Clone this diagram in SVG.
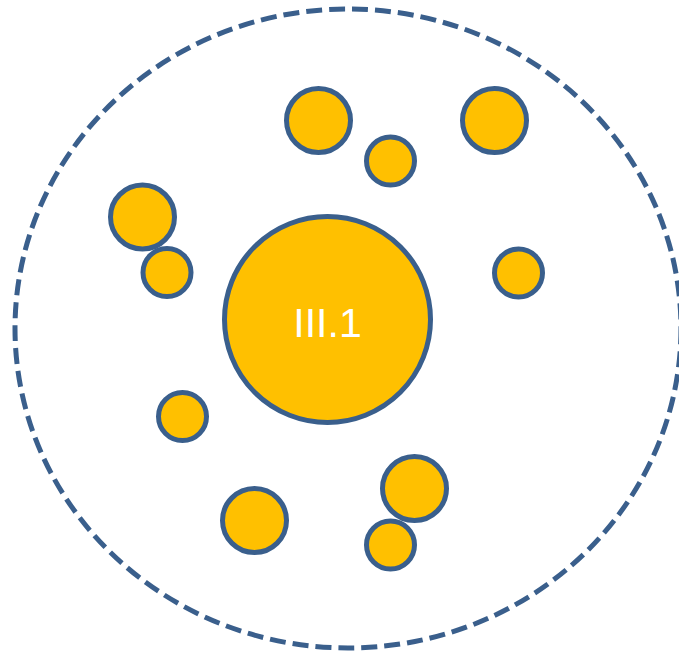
<svg xmlns="http://www.w3.org/2000/svg" width="679" height="655" viewBox="0 0 679 655">
  <style>
    .b { fill: #FFC000; stroke: #3A5F8C; stroke-width: 5; }
    .t { font-family: "Liberation Sans", Arial, sans-serif; font-size: 41px; fill: #FFFFFF; text-anchor: middle; }
  </style>
  <rect width="679" height="655" fill="#FFFFFF"/>
  <g id="boundary">
    <ellipse cx="348" cy="328.5" rx="333" ry="319.5" fill="none" stroke="#3A5F8C" stroke-width="5" stroke-dasharray="16 7"/>
  </g>
  <g id="c1"><circle class="b" cx="318.5" cy="120.5" r="32"/></g>
  <g id="c2"><circle class="b" cx="390.5" cy="161" r="24"/></g>
  <g id="c3"><circle class="b" cx="494.5" cy="120.5" r="32"/></g>
  <g id="c4"><circle class="b" cx="518.5" cy="273" r="24"/></g>
  <g id="c5"><circle class="b" cx="142.5" cy="217" r="32"/></g>
  <g id="c6"><circle class="b" cx="167" cy="272.5" r="24"/></g>
  <g id="c7"><circle class="b" cx="182.5" cy="416.5" r="24"/></g>
  <g id="c8"><circle class="b" cx="254.5" cy="520.5" r="32"/></g>
  <g id="c9"><circle class="b" cx="390.5" cy="545" r="24"/></g>
  <g id="c10"><circle class="b" cx="414.5" cy="488.5" r="32"/></g>
  <g id="main">
    <circle class="b" cx="327.5" cy="319.5" r="103"/>
    <text class="t" x="327.5" y="337">III.1</text>
  </g>
</svg>
